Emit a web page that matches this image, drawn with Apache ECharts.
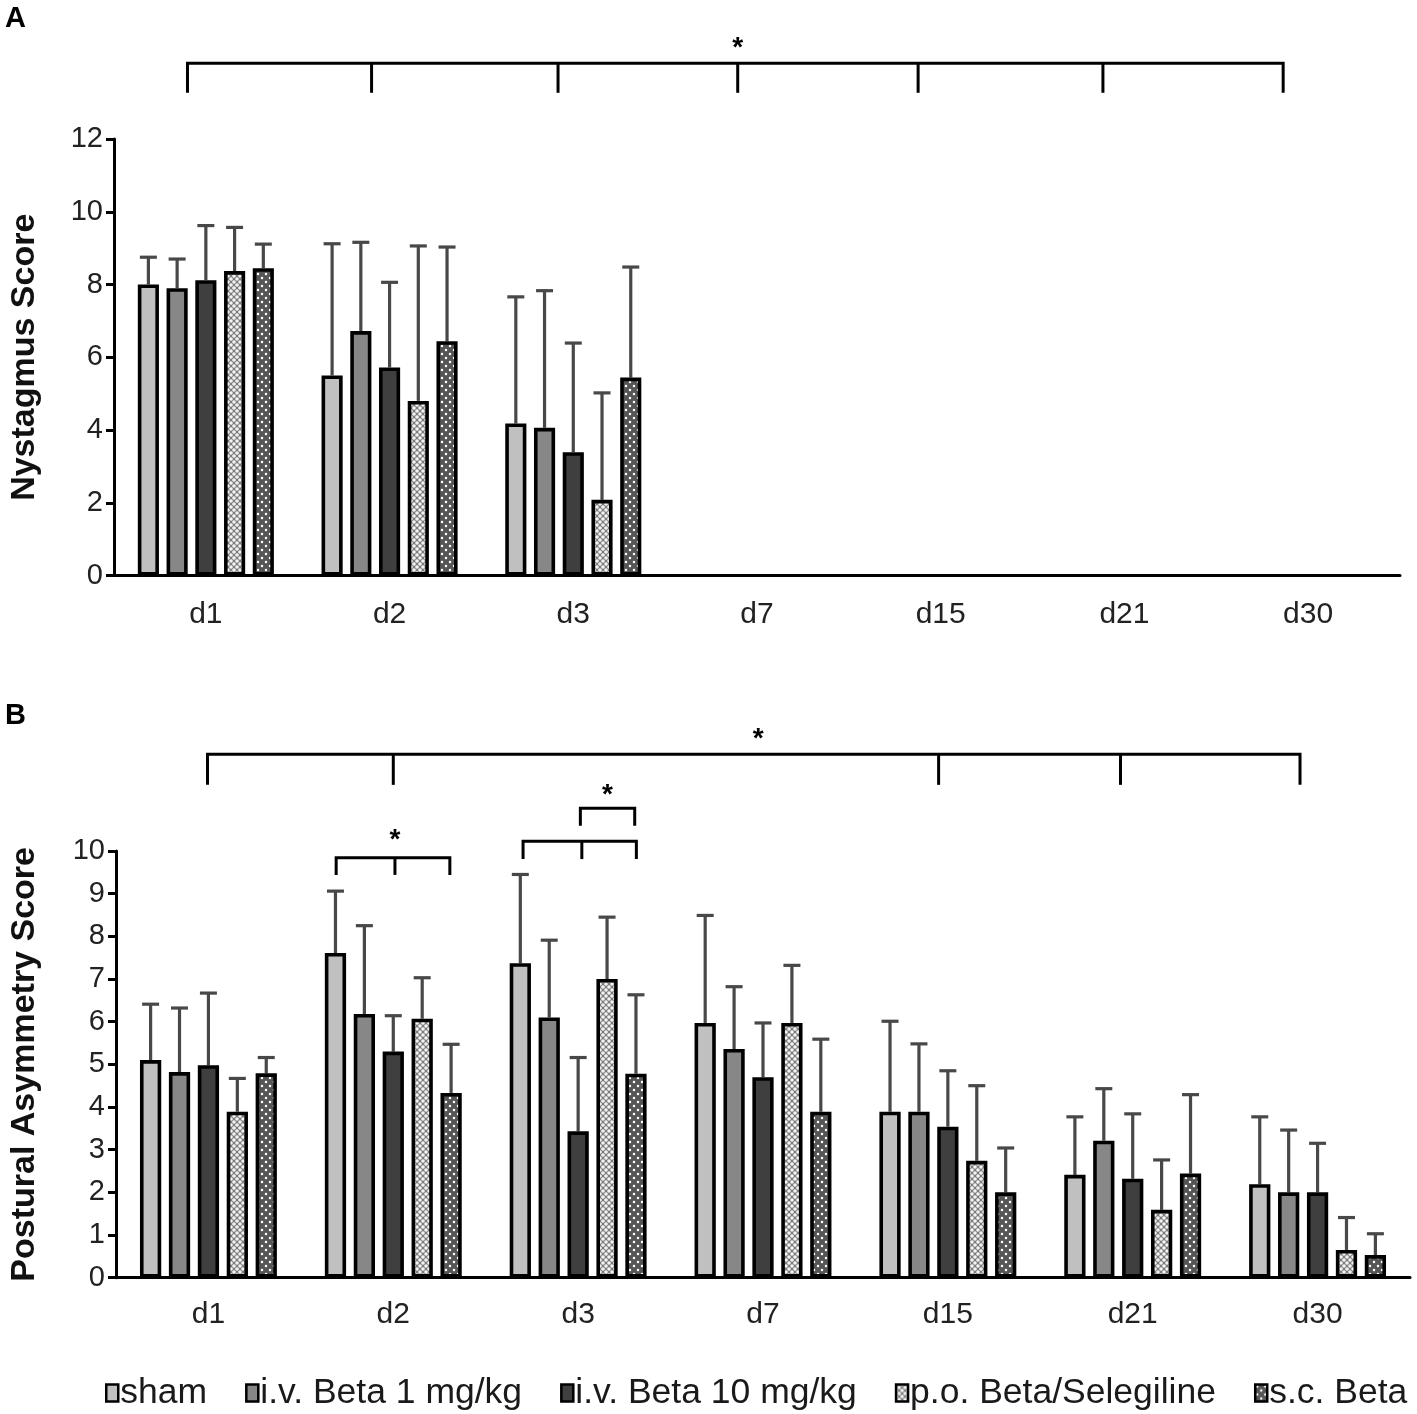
<!DOCTYPE html>
<html><head><meta charset="utf-8">
<script src="https://cdn.jsdelivr.net/npm/echarts@6/dist/echarts.min.js"></script>
<style>html,body{margin:0;padding:0;background:#fff}#c{width:1417px;height:1414px}</style>
</head><body><div id="c"></div>
<script>
const categories = ['d1','d2','d3','d7','d15','d21','d30'];
const groups = ['sham','i.v. Beta 1 mg/kg','i.v. Beta 10 mg/kg','p.o. Beta/Selegiline','s.c. Beta'];

// Panel A: Nystagmus score (mean, upper error)
const nysSham = [8.0, 5.5, 4.18, 0, 0, 0, 0];
const nysIv1  = [7.9, 6.72, 4.06, 0, 0, 0, 0];
const nysIv10 = [8.12, 5.72, 3.39, 0, 0, 0, 0];
const nysPo   = [8.37, 4.8, 2.08, 0, 0, 0, 0];
const nysSc   = [8.45, 6.44, 5.44, 0, 0, 0, 0];
const nysErrSham = [0.75, 3.62, 3.48, 0, 0, 0, 0];
const nysErrIv1  = [0.8, 2.44, 3.77, 0, 0, 0, 0];
const nysErrIv10 = [1.5, 2.34, 3.0, 0, 0, 0, 0];
const nysErrPo   = [1.2, 4.26, 2.94, 0, 0, 0, 0];
const nysErrSc   = [0.66, 2.59, 3.04, 0, 0, 0, 0];

// Panel B: Postural asymmetry score
const posSham = [5.1, 7.61, 7.37, 5.97, 3.89, 2.41, 2.19];
const posIv1  = [4.82, 6.18, 6.10, 5.36, 3.89, 3.21, 2.0];
const posIv10 = [4.98, 5.3, 3.43, 4.70, 3.54, 2.32, 2.0];
const posPo   = [3.89, 6.07, 7.0, 5.97, 2.74, 1.59, 0.65];
const posSc   = [4.79, 4.33, 4.78, 3.89, 2.0, 2.44, 0.53];
const posErrSham = [1.31, 1.45, 2.08, 2.52, 2.12, 1.36, 1.58];
const posErrIv1  = [1.5, 2.07, 1.81, 1.46, 1.59, 1.22, 1.46];
const posErrIv10 = [1.69, 0.84, 1.73, 1.27, 1.31, 1.52, 1.15];
const posErrPo   = [0.78, 0.96, 1.45, 1.35, 1.76, 1.17, 0.76];
const posErrSc   = [0.37, 1.14, 1.85, 1.70, 1.04, 1.85, 0.5];

const yTicksA = [0, 2, 4, 6, 8, 10, 12];
const yTicksB = [0, 1, 2, 3, 4, 5, 6, 7, 8, 9, 10];

// significance brackets: [category index, fractional offset within category]
const bracketsA = [
  {level: 14.08, drop: 13.27, xs: [[0,-0.10],[1,-0.098],[2,-0.083],[3,-0.105],[4,-0.123],[5,-0.117],[6,-0.136]]}
];
const starsA = [[3,-0.105,14.5]];
const bracketsB = [
  {level: 12.27, drop: 11.55, xs: [[0,-0.005],[1,0],[4,-0.05],[5,-0.066],[6,-0.095]]},
  {level: 9.84, drop: 9.44, xs: [[1,-0.309],[1,0.009],[1,0.306]]},
  {level: 10.23, drop: 9.81, xs: [[2,-0.298],[2,0.02],[2,0.315]]},
  {level: 11.0, drop: 10.59, xs: [[2,0.012],[2,0.306]]}
];
const starsB = [[3,-0.026,12.62],[1,0.009,10.25],[2,0.159,11.31]];

const FONT = "'Liberation Sans', Arial, sans-serif";
const BAR_W = 0.115, BAR_GAP = 0.36;

function makePattern(bg, dots, size, r, dotColor) {
  const c = document.createElement('canvas');
  c.width = size; c.height = size;
  const ctx = c.getContext('2d');
  ctx.fillStyle = bg; ctx.fillRect(0, 0, size, size);
  ctx.fillStyle = dotColor;
  dots.forEach(d => { ctx.beginPath(); ctx.arc(d[0], d[1], r, 0, Math.PI * 2); ctx.fill(); });
  return c;
}
const poPattern = makePattern('#7c7c7c', [[0,0],[6,0],[0,6],[6,6],[3,3]], 6, 1.8, '#f4f4f4');
const scPattern = makePattern('#555555', [[2,2],[6,6]], 8, 1.25, '#ffffff');

const fills = ['#c0c0c0', '#878787', '#3f3f3f',
  {image: poPattern, repeat: 'repeat'}, {image: scPattern, repeat: 'repeat'}];

const dataA = [nysSham, nysIv1, nysIv10, nysPo, nysSc];
const errA = [nysErrSham, nysErrIv1, nysErrIv10, nysErrPo, nysErrSc];
const dataB = [posSham, posIv1, posIv10, posPo, posSc];
const errB = [posErrSham, posErrIv1, posErrIv10, posErrPo, posErrSc];

function errRender(g) {
  return function (params, api) {
    const e = api.value(2);
    if (!(e > 0)) return null;
    const band = api.size([1, 0])[0];
    const bw = band * BAR_W, step = bw * (1 + BAR_GAP);
    const c = api.value(0), m = api.value(1);
    const cx = api.coord([c, 0])[0] + (g - 2) * step;
    const y0 = api.coord([c, m])[1];
    const y1 = api.coord([c, m + e])[1];
    const st = {stroke: '#484848', lineWidth: 3.2};
    return {type: 'group', children: [
      {type: 'line', shape: {x1: cx, y1: y0, x2: cx, y2: y1}, style: st},
      {type: 'line', shape: {x1: cx - 8.5, y1: y1, x2: cx + 8.5, y2: y1}, style: st}
    ]};
  };
}

function bracketRender(brs, stars) {
  return function (params, api) {
    const band = api.size([1, 0])[0];
    const P = (x, v) => { const p = api.coord([x[0], v]); return [p[0] + x[1] * band, p[1]]; };
    const st = {stroke: '#000', lineWidth: 3, fill: null, lineJoin: 'miter'};
    const ch = [];
    brs.forEach(b => {
      const top = b.xs.map(x => P(x, b.level));
      const yb = api.coord([0, b.drop])[1];
      const n = top.length;
      ch.push({type: 'polyline', shape: {points: [[top[0][0], yb], top[0], top[n - 1], [top[n - 1][0], yb]]}, style: st});
      for (let i = 1; i < n - 1; i++) {
        ch.push({type: 'line', shape: {x1: top[i][0], y1: top[i][1], x2: top[i][0], y2: yb}, style: st});
      }
    });
    stars.forEach(s => {
      const p = P([s[0], s[1]], s[2]);
      ch.push({type: 'text', x: p[0], y: p[1], style: {text: '*', font: 'bold 28px ' + FONT, fill: '#000', align: 'center', verticalAlign: 'middle'}});
    });
    return {type: 'group', children: ch};
  };
}

const series = [];
[dataA, dataB].forEach((data, panel) => {
  data.forEach((vals, g) => {
    series.push({
      name: groups[g], type: 'bar', xAxisIndex: panel, yAxisIndex: panel,
      data: vals.map(v => v === 0 ? {value: 0, itemStyle: {borderWidth: 0}} : v),
      barWidth: (BAR_W * 100) + '%', barGap: (BAR_GAP * 100) + '%',
      itemStyle: {color: fills[g], borderColor: '#000', borderWidth: 3.6},
      emphasis: {disabled: true}, z: 3
    });
  });
  const errs = panel === 0 ? errA : errB;
  data.forEach((vals, g) => {
    series.push({
      name: 'err' + panel + '_' + g, type: 'custom', xAxisIndex: panel, yAxisIndex: panel,
      renderItem: errRender(g), encode: {x: 0, y: 1}, z: 2,
      data: vals.map((v, i) => [i, v, errs[g][i]])
    });
  });
  series.push({
    name: 'brackets' + panel, type: 'custom', xAxisIndex: panel, yAxisIndex: panel,
    clip: false, silent: true, z: 5, encode: {x: 0, y: 1},
    renderItem: panel === 0 ? bracketRender(bracketsA, starsA) : bracketRender(bracketsB, starsB),
    data: [[0, 0]]
  });
});

function yAxis(ticks, gridIndex, name, gap) {
  return {
    type: 'value', gridIndex, min: ticks[0], max: ticks[ticks.length - 1], interval: ticks[1] - ticks[0],
    name, nameLocation: 'middle', nameGap: gap,
    nameTextStyle: {fontFamily: FONT, fontWeight: 'bold', fontSize: 34, color: '#111'},
    axisLine: {show: true, lineStyle: {color: '#000', width: 3}},
    axisTick: {show: true, length: 8, lineStyle: {color: '#000', width: 3}},
    axisLabel: {fontFamily: FONT, fontSize: 29, color: '#222', margin: 11},
    splitLine: {show: false}
  };
}
function xAxis(gridIndex, margin) {
  return {
    type: 'category', gridIndex, data: categories,
    axisLine: {lineStyle: {color: '#000', width: 3}}, axisTick: {show: false},
    axisLabel: {fontFamily: FONT, fontSize: 30, color: '#222', margin}
  };
}

const chart = echarts.init(document.getElementById('c'), null, {renderer: 'canvas'});
chart.setOption({
  backgroundColor: '#fff',
  animation: false,
  grid: [
    {left: 112, top: 139, width: 1288, height: 436.5},
    {left: 110, top: 851, width: 1300, height: 426.7}
  ],
  xAxis: [xAxis(0, 24), xAxis(1, 22)],
  yAxis: [yAxis(yTicksA, 0, 'Nystagmus Score', 72), yAxis(yTicksB, 1, 'Postural Asymmetry Score', 74)],
  legend: {
    data: groups, left: 100, top: 1370, width: 1317, icon: 'rect', itemWidth: 12, itemHeight: 17, itemGap: 38,
    selectedMode: false,
    itemStyle: {borderColor: '#000', borderWidth: 2.5},
    textStyle: {fontFamily: FONT, fontSize: 35.5, color: '#1a1a1a', padding: [0, 0, 0, -3]}
  },
  graphic: [
    {type: 'text', left: 5, top: 4, style: {text: 'A', font: 'bold 29px ' + FONT, fill: '#000'}},
    {type: 'text', left: 5, top: 701, style: {text: 'B', font: 'bold 29px ' + FONT, fill: '#000'}}
  ],
  series
});
</script>
</body></html>
